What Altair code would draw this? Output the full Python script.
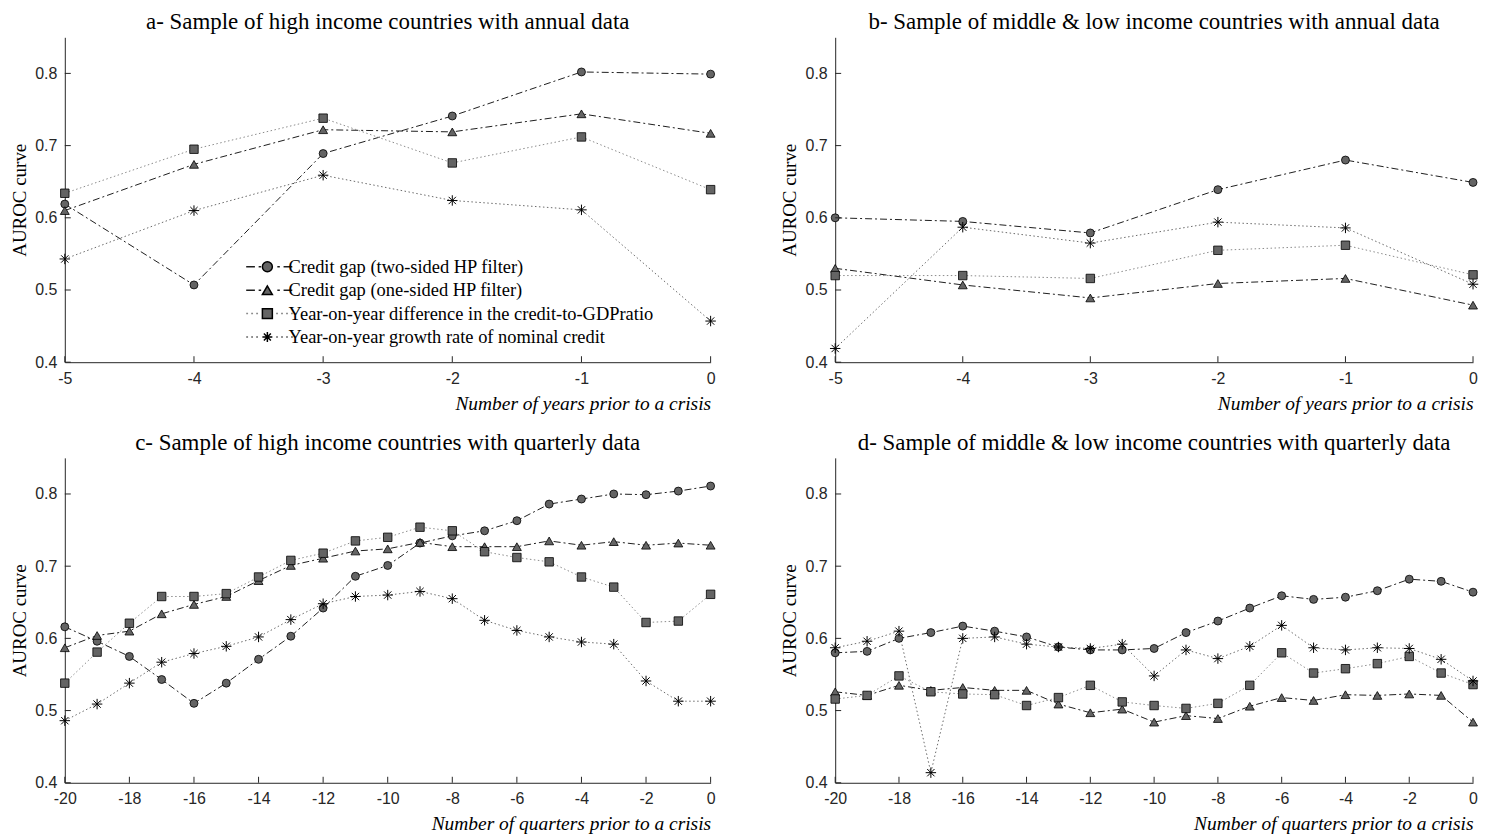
import altair as alt
import pandas as pd

# ---------------- data ----------------
years = [-5, -4, -3, -2, -1, 0]
quarters = list(range(-20, 1))

series_names = [
    "Credit gap (two-sided HP filter)",
    "Credit gap (one-sided HP filter)",
    "Year-on-year difference in the credit-to-GDPratio",
    "Year-on-year growth rate of nominal credit",
]

a_two = [0.619, 0.507, 0.689, 0.741, 0.802, 0.799]
a_one = [0.610, 0.674, 0.722, 0.719, 0.744, 0.717]
a_diff = [0.634, 0.695, 0.738, 0.676, 0.712, 0.639]
a_growth = [0.543, 0.610, 0.659, 0.624, 0.611, 0.457]

b_two = [0.600, 0.595, 0.579, 0.639, 0.680, 0.649]
b_one = [0.530, 0.507, 0.489, 0.509, 0.516, 0.479]
b_diff = [0.520, 0.520, 0.516, 0.555, 0.562, 0.521]
b_growth = [0.419, 0.587, 0.565, 0.594, 0.586, 0.508]

c_two = [0.616, 0.596, 0.575, 0.543, 0.510, 0.538, 0.571, 0.603, 0.642, 0.686, 0.701,
         0.732, 0.742, 0.749, 0.763, 0.786, 0.793, 0.800, 0.799, 0.804, 0.811]
c_one = [0.587, 0.604, 0.610, 0.634, 0.647, 0.658, 0.680, 0.701, 0.711, 0.721, 0.724,
         0.733, 0.727, 0.727, 0.727, 0.735, 0.729, 0.734, 0.729, 0.732, 0.729]
c_diff = [0.538, 0.581, 0.621, 0.658, 0.658, 0.662, 0.685, 0.708, 0.718, 0.735, 0.740,
          0.754, 0.749, 0.720, 0.712, 0.706, 0.685, 0.671, 0.622, 0.624, 0.661]
c_growth = [0.486, 0.509, 0.538, 0.567, 0.579, 0.589, 0.602, 0.626, 0.648, 0.658, 0.660,
            0.665, 0.655, 0.625, 0.611, 0.602, 0.595, 0.592, 0.541, 0.513, 0.513]

d_two = [0.580, 0.582, 0.600, 0.608, 0.617, 0.610, 0.602, 0.588, 0.584, 0.584, 0.586,
         0.608, 0.624, 0.642, 0.659, 0.654, 0.657, 0.666, 0.682, 0.679, 0.664]
d_one = [0.526, 0.521, 0.535, 0.528, 0.532, 0.528, 0.528, 0.509, 0.497, 0.502, 0.484,
         0.493, 0.489, 0.506, 0.518, 0.514, 0.522, 0.521, 0.523, 0.521, 0.484]
d_diff = [0.516, 0.521, 0.548, 0.526, 0.523, 0.522, 0.507, 0.518, 0.535, 0.512, 0.507,
          0.503, 0.510, 0.535, 0.580, 0.552, 0.558, 0.565, 0.575, 0.552, 0.536]
d_growth = [0.587, 0.596, 0.610, 0.414, 0.600, 0.602, 0.592, 0.588, 0.586, 0.592, 0.548,
            0.584, 0.572, 0.589, 0.618, 0.587, 0.584, 0.587, 0.586, 0.571, 0.541]

year_ticks = [-5, -4, -3, -2, -1, 0]
quarter_ticks = [-20, -18, -16, -14, -12, -10, -8, -6, -4, -2, 0]
y_ticks = [0.4, 0.5, 0.6, 0.7, 0.8]

titles = [
    "a- Sample of high income countries with annual data",
    "b- Sample of middle & low income countries with annual data",
    "c- Sample of high income countries with quarterly data",
    "d- Sample of middle & low income countries with quarterly data",
]
x_titles = ["Number of years prior to a crisis", "Number of quarters prior to a crisis"]
y_title = "AUROC curve"

# ---------------- style ----------------
SERIF = "Liberation Serif"
SANS = "Liberation Sans"
AX = "#262626"
H = 326
W_LEFT = 648
W_RIGHT = 640
TICK_LEN = 6

ASTERISK = "M0,-1L0,1M-1,0L1,0M-0.7,-0.7L0.7,0.7M-0.7,0.7L0.7,-0.7"
line_colors = ["#1e1e1e", "#1e1e1e", "#8c8c8c", "#6a6a6a"]
line_dash = [[7, 3, 2, 3], [7, 3, 2, 3], [1.5, 2.5], [1.5, 2.5]]
marker_shapes = ["circle", "triangle-up", "square", ASTERISK]
marker_sizes = [64, 80, 72, 110]
MARKER_FILL = "#646464"


def dash_path(pattern, x0=-17.0, x1=23.0, skip=(-5.0, 5.0), unit=4.0):
    segs = []
    x = x0
    i = 0
    on = True
    while x < x1:
        L = pattern[i % len(pattern)]
        if on:
            a, b = x, min(x + L, x1)
            pieces = []
            if b <= skip[0] or a >= skip[1]:
                pieces = [(a, b)]
            else:
                if a < skip[0]:
                    pieces.append((a, skip[0]))
                if b > skip[1]:
                    pieces.append((skip[1], b))
            for s, e in pieces:
                segs.append(f"M{s / unit:.3f},0L{e / unit:.3f},0")
        x += L
        i += 1
        on = not on
    return "".join(segs)


legend_line_paths = [dash_path(p) for p in line_dash]
legend_marker_shapes = ["circle", "triangle-up", "M-1,-1L1,-1L1,1L-1,1Z", ASTERISK]
legend_marker_keys = ["m0", "m1", "m2", "m3"]


def panel(xs, vals, title, xtitle, xticks, width, legend=False):
    rows = []
    for name, vv in zip(series_names, vals):
        for x, v in zip(xs, vv):
            rows.append({"x": x, "v": v, "s": name})
    df = pd.DataFrame(rows)

    xscale = alt.Scale(domain=[xs[0], xs[-1]], nice=False, zero=False)
    yscale = alt.Scale(domain=[0.4, 0.85], nice=False, zero=False)
    xaxis = alt.Axis(
        values=xticks, labelExpr="'' + datum.value", ticks=False, tickSize=0, grid=False,
        labelFlush=False, labelFont=SANS, labelFontSize=16, labelColor=AX, labelPadding=8,
        domainColor=AX, domainWidth=1,
        title=xtitle, titleFont=SERIF, titleFontStyle="italic", titleFontWeight="normal",
        titleFontSize=19.5, titleColor="black", titleX=width, titleY=47,
        titleAlign="right", titleBaseline="alphabetic",
    )
    yaxis = alt.Axis(
        values=y_ticks, format=".1f", ticks=False, tickSize=0, grid=False,
        labelFlush=False, labelFont=SANS, labelFontSize=16, labelColor=AX, labelPadding=8,
        domainColor=AX, domainWidth=1,
        title=y_title, titleFont=SERIF, titleFontWeight="normal", titleFontSize=19,
        titleColor="black", titleX=-45.5, titleY=H / 2, titleAngle=270,
        titleAlign="center", titleBaseline="middle",
    )

    base = alt.Chart(df).encode(
        x=alt.X("x:Q", scale=xscale, axis=xaxis),
        y=alt.Y("v:Q", scale=yscale, axis=yaxis),
    )
    layers = []
    for i, name in enumerate(series_names):
        layers.append(
            base.transform_filter(alt.datum.s == name).mark_line(
                stroke=line_colors[i], strokeDash=line_dash[i], strokeWidth=1
            )
        )
    for i, name in enumerate(series_names):
        if i == 3:
            mk = base.transform_filter(alt.datum.s == name).mark_point(
                shape=marker_shapes[i], filled=False, stroke="black", strokeWidth=1,
                size=marker_sizes[i], opacity=1,
            )
        else:
            mk = base.transform_filter(alt.datum.s == name).mark_point(
                shape=marker_shapes[i], filled=True, fill=MARKER_FILL, stroke="black",
                strokeWidth=0.8, size=marker_sizes[i], opacity=1,
            )
        layers.append(mk)

    xt = alt.Chart(pd.DataFrame({"x": xticks})).mark_rule(color=AX, strokeWidth=1).encode(
        x=alt.X("x:Q", scale=xscale, axis=xaxis),
        y=alt.value(H),
        y2=alt.value(H - TICK_LEN),
    )
    yt = alt.Chart(pd.DataFrame({"v": y_ticks})).mark_rule(color=AX, strokeWidth=1).encode(
        y=alt.Y("v:Q", scale=yscale, axis=yaxis),
        x=alt.value(0),
        x2=alt.value(TICK_LEN),
    )
    layers += [xt, yt]

    resolve = False
    if legend:
        lg_df = pd.DataFrame({"lg": series_names, "lm": legend_marker_keys,
                              "x": [xs[0]] * 4, "v": [0.5] * 4})
        common = dict(orient="none", legendX=194, legendY=221, title=None, padding=0,
                      labelFont=SERIF, labelFontSize=18.5, labelColor="black",
                      rowPadding=4.5, labelOffset=12, labelLimit=700)
        lg_lines = alt.Chart(lg_df).transform_filter("false").mark_point(
            filled=False, size=64, strokeWidth=1, opacity=1
        ).encode(
            x=alt.X("x:Q", scale=xscale, axis=xaxis),
            y=alt.Y("v:Q", scale=yscale, axis=yaxis),
            shape=alt.Shape("lg:N", scale=alt.Scale(domain=series_names, range=legend_line_paths),
                            legend=alt.Legend(**common)),
            stroke=alt.Stroke("lg:N", scale=alt.Scale(domain=series_names, range=line_colors),
                              legend=alt.Legend(**common)),
        )
        lg_marks = alt.Chart(lg_df).transform_filter("false").mark_point(
            filled=True, fill=MARKER_FILL, stroke="black", strokeWidth=0.8, size=64, opacity=1
        ).encode(
            x=alt.X("x:Q", scale=xscale, axis=xaxis),
            y=alt.Y("v:Q", scale=yscale, axis=yaxis),
            shape=alt.Shape("lm:N", scale=alt.Scale(domain=legend_marker_keys,
                                                    range=legend_marker_shapes),
                            legend=alt.Legend(labelExpr="' '", **common)),
        )
        layers += [lg_lines, lg_marks]
        resolve = True

    ch = alt.layer(*layers).properties(
        width=width, height=H,
        title=alt.Title(title, font=SERIF, fontSize=23, fontWeight="normal", color="black",
                        anchor="middle", offset=-15, baseline="alphabetic"),
    )
    if resolve:
        ch = ch.resolve_scale(shape="independent", stroke="independent").resolve_legend(
            shape="independent", stroke="independent")
    return ch


pa = panel(years, [a_two, a_one, a_diff, a_growth], titles[0], x_titles[0], year_ticks, W_LEFT, legend=True)
pb = panel(years, [b_two, b_one, b_diff, b_growth], titles[1], x_titles[0], year_ticks, W_RIGHT)
pc = panel(quarters, [c_two, c_one, c_diff, c_growth], titles[2], x_titles[1], quarter_ticks, W_LEFT)
pd_ = panel(quarters, [d_two, d_one, d_diff, d_growth], titles[3], x_titles[1], quarter_ticks, W_RIGHT)

row1 = alt.hconcat(pa, pb, spacing=62)
row2 = alt.hconcat(pc, pd_, spacing=62)
chart = alt.vconcat(row1, row2, spacing=19).properties(
    padding={"left": 2, "top": 2, "right": 0, "bottom": 0},
    background="white",
).configure_view(stroke=None)

chart.save("out.html", embed_options={"renderer": "svg", "actions": False})
